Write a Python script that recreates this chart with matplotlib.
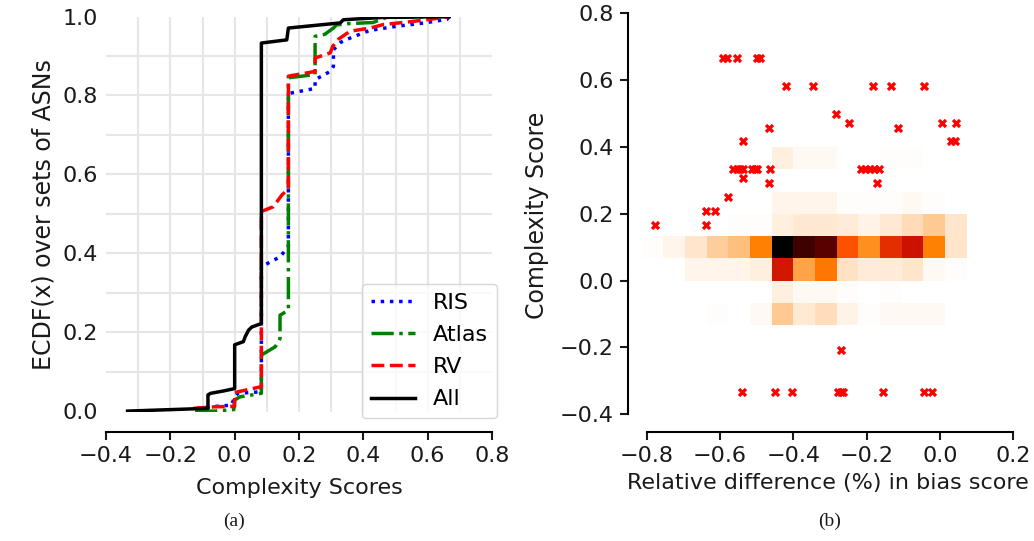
import numpy as np
import matplotlib
matplotlib.use('Agg')
import matplotlib.pyplot as plt
from matplotlib.ticker import MultipleLocator, FixedLocator

# ECDF knots per vantage-point set (complexity score, cumulative fraction)
ris_x = [-0.117, -0.045, -0.01, 0.0, 0.01, 0.083, 0.083, 0.141, 0.167, 0.167, 0.25, 0.25,
         0.297, 0.307, 0.307, 0.33, 0.36, 0.42, 0.5, 0.59, 0.66, 0.667]
ris_y = [0.007, 0.013, 0.015, 0.036, 0.045, 0.049, 0.366, 0.391, 0.417, 0.805, 0.818, 0.84,
         0.861, 0.874, 0.916, 0.935, 0.946, 0.965, 0.975, 0.984, 0.993, 1.0]

atlas_x = [-0.123, -0.06, -0.003, 0.0, 0.016, 0.083, 0.083, 0.126, 0.141, 0.141, 0.167, 0.167,
           0.25, 0.25, 0.28, 0.307, 0.317, 0.35, 0.43, 0.472, 0.667]
atlas_y = [0.0, 0.0, 0.004, 0.028, 0.036, 0.045, 0.142, 0.163, 0.184, 0.243, 0.256, 0.845,
           0.853, 0.95, 0.955, 0.971, 0.979, 0.982, 0.985, 0.998, 1.0]

rv_x = [-0.128, -0.06, 0.0, 0.0, 0.083, 0.083, 0.12, 0.147, 0.167, 0.167, 0.25, 0.25,
        0.297, 0.305, 0.323, 0.359, 0.421, 0.463, 0.535, 0.607, 0.667]
rv_y = [0.007, 0.011, 0.012, 0.047, 0.062, 0.506, 0.518, 0.548, 0.563, 0.849, 0.861, 0.895,
        0.908, 0.925, 0.943, 0.963, 0.971, 0.98, 0.986, 0.993, 1.0]

all_x = [-0.333, -0.083, -0.083, -0.075, -0.035, 0.0, 0.0, 0.027, 0.033, 0.043, 0.053, 0.083,
         0.083, 0.162, 0.167, 0.328, 0.338, 0.462, 0.667]
all_y = [0.0, 0.007, 0.041, 0.045, 0.051, 0.057, 0.168, 0.176, 0.189, 0.205, 0.213, 0.222,
         0.933, 0.941, 0.971, 0.984, 0.992, 0.998, 1.0]

# 2D histogram of (relative bias difference, complexity score)
x_range = (-0.8135, 0.073)
y_range = (-2 / 15, 6 / 15)
n_xbins = 15
n_ybins = 8
# rows from bottom (-0.133) to top (0.4)
counts = [
    [0, 0, 0, 1, 0, 2, 16, 7, 10, 4, 1, 2, 2, 2, 0],
    [0, 0, 0, 0, 0, 0, 5, 2, 2, 1, 0, 1, 0, 0, 0],
    [0, 0, 3, 3, 3, 5, 68, 27, 40, 9, 6, 6, 8, 2, 1],
    [1, 3, 8, 15, 19, 37, 150, 125, 115, 51, 33, 61, 70, 37, 8],
    [0, 0, 0, 0, 1, 1, 5, 7, 7, 6, 4, 7, 11, 16, 8],
    [0, 0, 0, 0, 0, 0, 3, 3, 3, 1, 1, 1, 2, 1, 0],
    [0, 0, 0, 0, 0, 0, 0, 0, 0, 0, 0, 0, 0, 0, 0],
    [0, 0, 0, 0, 0, 0, 5, 2, 2, 0, 0, 1, 1, 0, 0],
]

# outliers drawn on top of the histogram
out_x = [-0.591, -0.580, -0.555, -0.500, -0.490,
         -0.421, -0.347, -0.184, -0.135, -0.044,
         -0.283,
         -0.248, 0.005, 0.043,
         -0.466, -0.114,
         -0.538, 0.030, 0.041,
         -0.565, -0.555, -0.546, -0.538, -0.513, -0.505, -0.498, -0.464,
         -0.216, -0.204, -0.192, -0.180, -0.167,
         -0.538,
         -0.466, -0.173,
         -0.578,
         -0.639, -0.614,
         -0.778, -0.639,
         -0.271,
         -0.539, -0.450, -0.403, -0.277, -0.270, -0.264, -0.155, -0.043, -0.021]
out_y = [0.667] * 5 + [0.583] * 5 + [0.5] + [0.473] * 3 + [0.458] * 2 + [0.417] * 3 \
    + [0.333] * 13 + [0.307] + [0.292] * 2 + [0.25] + [0.208] * 2 + [0.167] * 2 \
    + [-0.208] + [-0.333] * 9

W, H = 1034, 541
fig = plt.figure(figsize=(W / 100, H / 100), dpi=100)
fs = 16
fs_y = 17
txt = '#1a1a1a'


def rect(l, t, r, b):
    return [l / W, 1 - b / H, (r - l) / W, (b - t) / H]


# ---- (a) ECDF ----
ax1 = fig.add_axes(rect(106, 16.6, 492, 412))
ax1.plot(ris_x, ris_y, ':', color='blue', lw=2.5, label='RIS')
ax1.plot(atlas_x, atlas_y, '-.', color='green', lw=2.5, label='Atlas')
ax1.plot(rv_x, rv_y, '--', color='red', lw=2.5, label='RV')
ax1.plot(all_x, all_y, '-', color='black', lw=2.5, label='All')
ax1.set_xlim(-0.4, 0.8)
ax1.set_ylim(-0.0023, 1.0)
ax1.xaxis.set_major_locator(MultipleLocator(0.2))
ax1.yaxis.set_major_locator(MultipleLocator(0.2))
# grid only on the inner 0.1 steps, not on the axis limits
ax1.xaxis.remove_overlapping_locs = False
ax1.yaxis.remove_overlapping_locs = False
ax1.xaxis.set_minor_locator(FixedLocator(np.round(np.arange(-0.3, 0.75, 0.1), 2)))
ax1.yaxis.set_minor_locator(FixedLocator(np.round(np.arange(0.1, 0.95, 0.1), 2)))
ax1.grid(True, which='minor', color='#e6e6e6', lw=1.5)
ax1.grid(False, which='major')
ax1.set_axisbelow(True)
for s in ['left', 'top', 'right']:
    ax1.spines[s].set_visible(False)
ax1.spines['bottom'].set_position(('outward', 14.4))
ax1.spines['bottom'].set_bounds(-0.4, 0.8)
ax1.spines['bottom'].set_linewidth(1.5)
ax1.tick_params(axis='x', which='major', length=6, width=1.5, labelsize=fs, colors=txt, pad=4)
ax1.tick_params(axis='both', which='minor', length=0)
ax1.tick_params(axis='y', which='major', length=0, labelsize=fs, colors=txt, pad=6)
ax1.set_xlabel('Complexity Scores', fontsize=fs, color=txt, labelpad=9)
ax1.set_ylabel('ECDF(x) over sets of ASNs', fontsize=fs_y, color=txt, labelpad=5)
leg = ax1.legend(loc='lower right', bbox_to_anchor=(1.013, -0.016), borderaxespad=0,
                 fontsize=fs, handlelength=2.0, labelspacing=0.55, borderpad=0.4,
                 fancybox=True)
leg.get_frame().set_edgecolor('#cccccc')

# ---- (b) histogram + outliers ----
ax2 = fig.add_axes(rect(641.7, 13.3, 1013.4, 418))
xe = np.linspace(x_range[0], x_range[1], n_xbins + 1)
ye = np.linspace(y_range[0], y_range[1], n_ybins + 1)
ax2.pcolormesh(xe, ye, np.array(counts), cmap='gist_heat_r', vmin=0, vmax=150)
ax2.scatter(out_x, out_y, marker='X', s=45, color='red', linewidths=0, zorder=3)
ax2.set_xlim(-0.8135, 0.2)
ax2.set_ylim(-0.411, 0.8)
ax2.xaxis.set_major_locator(MultipleLocator(0.2))
ax2.yaxis.set_major_locator(MultipleLocator(0.2))
for s in ['top', 'right']:
    ax2.spines[s].set_visible(False)
ax2.spines['left'].set_position(('outward', 10))
ax2.spines['bottom'].set_position(('outward', 10))
ax2.spines['left'].set_bounds(-0.4, 0.8)
ax2.spines['bottom'].set_bounds(-0.8, 0.2)
for s in ['left', 'bottom']:
    ax2.spines[s].set_linewidth(1.5)
ax2.tick_params(length=6, width=1.5, labelsize=fs, colors=txt, pad=4)
ax2.set_xlabel('Relative difference (%) in bias score', fontsize=fs, color=txt, labelpad=5)
ax2.set_ylabel('Complexity Score', fontsize=fs_y, color=txt, labelpad=8)

fig.text(234 / W, 1 - 521 / H, '(a)', ha='center', va='center', fontsize=14,
         family='Liberation Serif', color=txt)
fig.text(830 / W, 1 - 521 / H, '(b)', ha='center', va='center', fontsize=14,
         family='Liberation Serif', color=txt)

fig.savefig('out.png', dpi=100)
